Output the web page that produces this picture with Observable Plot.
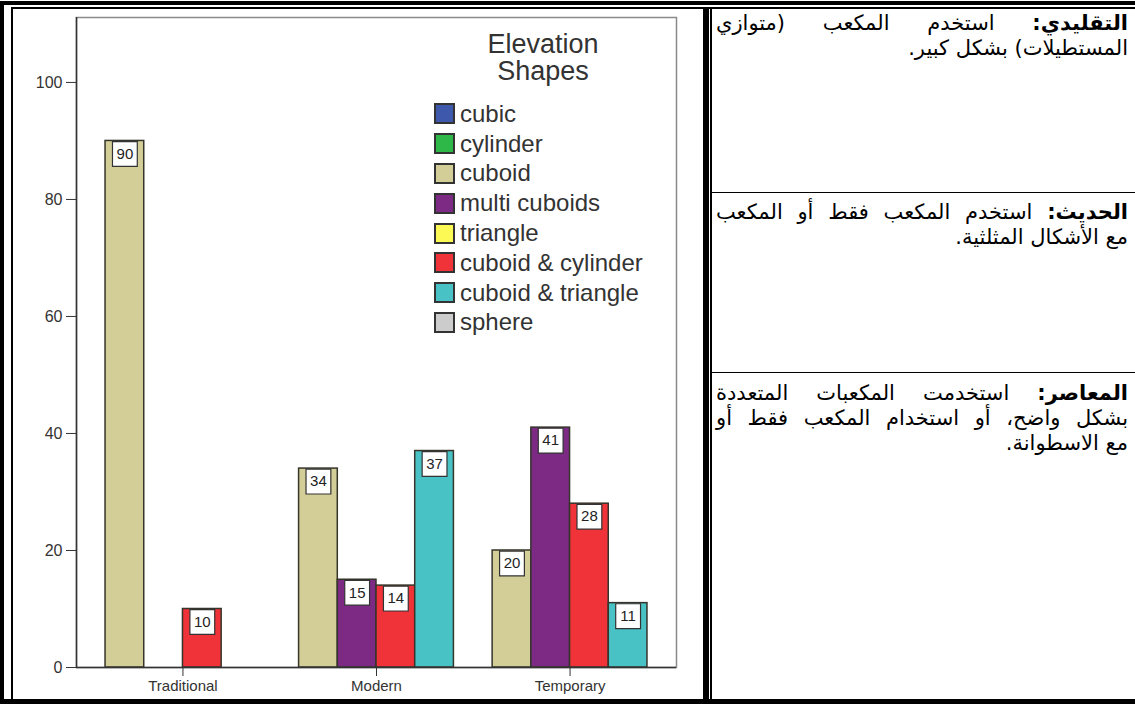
<!DOCTYPE html>
<html>
<head>
<meta charset="utf-8">
<script src="https://cdn.jsdelivr.net/npm/d3@7"></script>
<script src="https://cdn.jsdelivr.net/npm/@observablehq/plot@0.6"></script>
<style>
  html, body { margin: 0; padding: 0; background: #fff; }
  #page { position: relative; width: 1135px; height: 704px; overflow: hidden; background: #fff; }
  #chart { position: absolute; left: 0; top: 0; }
  .b { position: absolute; background: #000; z-index: 5; }
  #legend { position: absolute; left: 420px; top: 0; width: 250px; font-family: "Liberation Sans", Arial, sans-serif; color: #333; z-index: 3; }
  #legend .title { position: absolute; left: 0; width: 246px; top: 31px; text-align: center; font-size: 27px; line-height: 27px; }
  #legend .items { position: absolute; left: 14px; top: 99px; }
  #legend .item { display: flex; align-items: center; height: 29.8px; font-size: 24px; white-space: nowrap; }
  #legend .sw { width: 17px; height: 17px; border: 2px solid #333; margin-right: 5px; flex: none; }
  .cell { position: absolute; left: 716px; width: 412px; font-family: "DejaVu Sans", sans-serif; font-size: 21px; line-height: 25px; direction: rtl; color: #000; }
  .cell .ln { white-space: nowrap; text-align: right; }
  .cell .ln.j { text-align: justify; text-align-last: justify; }
</style>
</head>
<body>
<div id="page">
  <div id="chart"></div>
  <div id="legend"></div>
  <div class="cell" style="top:11px">
    <div class="ln j"><b>التقليدي:</b> استخدم المكعب (متوازي</div>
    <div class="ln">المستطيلات) بشكل كبير.</div>
  </div>
  <div class="cell" style="top:200px">
    <div class="ln j"><b>الحديث:</b> استخدم المكعب فقط أو المكعب</div>
    <div class="ln">مع الأشكال المثلثية.</div>
  </div>
  <div class="cell" style="top:381px">
    <div class="ln j"><b>المعاصر:</b> استخدمت المكعبات المتعددة</div>
    <div class="ln j">بشكل واضح، أو استخدام المكعب فقط أو</div>
    <div class="ln">مع الاسطوانة.</div>
  </div>
  <!-- table borders -->
  <div class="b" style="left:0;top:1px;width:1135px;height:4px"></div>
  <div class="b" style="left:11px;top:7px;width:1124px;height:2px"></div>
  <div class="b" style="left:0;top:1px;width:4px;height:703px"></div>
  <div class="b" style="left:11px;top:7px;width:2px;height:692px"></div>
  <div class="b" style="left:0;top:699px;width:1135px;height:5px"></div>
  <div class="b" style="left:703px;top:7px;width:6px;height:692px"></div>
  <div class="b" style="left:710px;top:7px;width:2px;height:692px"></div>
  <div class="b" style="left:712px;top:192px;width:423px;height:1px"></div>
  <div class="b" style="left:712px;top:372px;width:423px;height:1px"></div>
</div>
<script>
// ---- data ----
const categories = ["Traditional", "Modern", "Temporary"];
const shapes = ["cubic", "cylinder", "cuboid", "multi cuboids", "triangle", "cuboid & cylinder", "cuboid & triangle", "sphere"];
const shapeColors = ["#3E58AC", "#2EB848", "#D3CE97", "#7C2A84", "#FCF954", "#EF3338", "#48C2C5", "#CCCCCC"];
const cuboid = [90, 34, 20];
const multiCuboids = [0, 15, 41];
const cuboidCylinder = [10, 14, 28];
const cuboidTriangle = [0, 37, 11];
const yTicks = [0, 20, 40, 60, 80, 100];
const legendTitle = ["Elevation", "Shapes"];

// ---- build table ----
const series = [
  {shape: "cuboid", values: cuboid},
  {shape: "multi cuboids", values: multiCuboids},
  {shape: "cuboid & cylinder", values: cuboidCylinder},
  {shape: "cuboid & triangle", values: cuboidTriangle}
];
const slotsPerGroup = series.length + 1;
const rows = [];
categories.forEach((category, i) => {
  series.forEach((s, j) => {
    if (s.values[i] > 0) rows.push({category, shape: s.shape, value: s.values[i], pos: i * slotsPerGroup + j});
  });
});
const xDomain = [-0.75, categories.length * slotsPerGroup - 0.25];
const groupCenters = categories.map((c, i) => i * slotsPerGroup + series.length / 2);

const chart = Plot.plot({
  width: 700,
  height: 699,
  marginLeft: 76,
  marginRight: 24,
  marginTop: 17,
  marginBottom: 32,
  x: {domain: xDomain, axis: null, label: null},
  y: {domain: [0, 111.1], axis: null, label: null},
  color: {domain: shapes, range: shapeColors},
  style: {fontFamily: "'Liberation Sans', Arial, sans-serif", fontSize: "15px", color: "#333", background: "transparent"},
  marks: [
    Plot.frame({stroke: "#8a8a8a", strokeWidth: 1.5}),
    Plot.rectY(rows, {x1: "pos", x2: d => d.pos + 1, y: "value", fill: "shape", stroke: "#35352b", strokeWidth: 1.5}),
    Plot.dot(rows, {x: d => d.pos + 0.5, y: "value", symbol: "square", r: 14, fill: "white", stroke: "#333", strokeWidth: 1.2, dy: 13}),
    Plot.text(rows, {x: d => d.pos + 0.5, y: "value", text: d => String(d.value), dy: 13, fontSize: 15, fill: "#222"}),
    Plot.ruleX([xDomain[0]], {stroke: "#333", strokeWidth: 1.5}),
    Plot.ruleY([0], {stroke: "#333", strokeWidth: 1.5}),
    Plot.axisY(yTicks, {tickSize: 10, tickPadding: 4, fontSize: 16, label: null, tickFormat: d => String(d), stroke: "#333", fill: "#333"}),
    Plot.axisX(groupCenters, {tickSize: 9, tickPadding: 4, fontSize: 15, label: null, tickFormat: d => categories[groupCenters.indexOf(d)], stroke: "#333", fill: "#333"})
  ]
});
document.getElementById("chart").appendChild(chart);

// ---- legend ----
const legend = document.getElementById("legend");
const t = document.createElement("div");
t.className = "title";
t.innerHTML = legendTitle.join("<br>");
legend.appendChild(t);
const items = document.createElement("div");
items.className = "items";
shapes.forEach((s, i) => {
  const it = document.createElement("div");
  it.className = "item";
  const sw = document.createElement("span");
  sw.className = "sw";
  sw.style.background = shapeColors[i];
  it.appendChild(sw);
  it.appendChild(document.createTextNode(s));
  items.appendChild(it);
});
legend.appendChild(items);
</script>
</body>
</html>
